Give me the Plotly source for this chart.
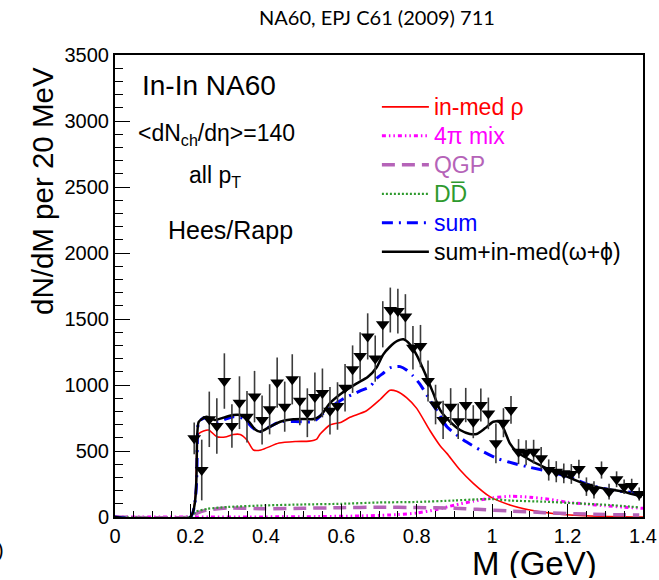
import plotly.graph_objects as go

# NA60 In-In dimuon excess mass spectrum (dN/dM per 20 MeV)
data_mass = [0.21, 0.23, 0.25, 0.27, 0.29, 0.31, 0.33, 0.35, 0.37, 0.39,
             0.41, 0.43, 0.45, 0.47, 0.49, 0.51, 0.53, 0.55, 0.57, 0.59,
             0.61, 0.63, 0.65, 0.67, 0.69, 0.71, 0.73, 0.75, 0.77, 0.79,
             0.81, 0.83, 0.85, 0.87, 0.89, 0.91, 0.93, 0.95, 0.97, 0.99,
             1.01, 1.03, 1.05, 1.07, 1.09, 1.11, 1.13, 1.15, 1.17, 1.19,
             1.21, 1.23, 1.25, 1.27, 1.29, 1.31, 1.33, 1.35, 1.37, 1.39]
data_yield = [596, 356, 740, 689, 1030, 689, 866, 760, 912, 735,
              816, 1018, 836, 1043, 881, 790, 910, 940, 805, 841,
              980, 1120, 1220, 1368, 1200, 1460, 1568, 1560, 1518, 1282,
              1295, 1030, 852, 735, 836, 725, 848, 722, 848, 785,
              558, 714, 811, 495, 487, 495, 445, 356, 343, 331,
              326, 364, 230, 205, 356, 192, 286, 230, 235, 174]
data_err = [120, 230, 210, 210, 210, 165, 200, 195, 195, 185,
            190, 190, 190, 190, 185, 185, 185, 185, 180, 180,
            180, 180, 180, 175, 175, 175, 170, 170, 170, 165,
            160, 155, 150, 145, 140, 135, 130, 125, 125, 120,
            150, 110, 105, 95, 95, 90, 85, 80, 80, 75,
            75, 70, 70, 65, 65, 60, 60, 55, 55, 50]

# Hees/Rapp model curves
rho_m = [0.0, 0.2, 0.222, 0.248, 0.27, 0.296, 0.314, 0.332, 0.35, 0.367,
         0.387, 0.435, 0.48, 0.515, 0.535, 0.544, 0.57, 0.6, 0.623, 0.667,
         0.703, 0.729, 0.747, 0.773, 0.8, 0.835, 0.862, 0.88, 0.915, 0.95,
         0.994, 1.047, 1.1, 1.171, 1.26, 1.4]
rho_y = [0, 0, 630, 659, 608, 608, 625, 625, 583, 508,
         508, 560, 572, 575, 590, 629, 697, 718, 755, 805,
         890, 960, 952, 905, 823, 655, 540, 482, 356, 255,
         154, 91, 53, 23, 8, 0]

mix_m = [0.0, 0.2, 0.5, 0.65, 0.75, 0.8, 0.85, 0.9, 0.95, 1.0,
         1.05, 1.1, 1.15, 1.2, 1.25, 1.3, 1.35, 1.4]
mix_y = [0, 0, 2, 8, 18, 30, 55, 90, 120, 145,
         157, 150, 135, 112, 98, 85, 75, 66]

qgp_m = [0.0, 0.2, 0.215, 0.24, 0.3, 0.4, 0.5, 0.6, 0.7, 0.8,
         0.9, 0.96, 1.05, 1.14, 1.22, 1.31, 1.39]
qgp_y = [0, 0, 25, 50, 68, 62, 66, 71, 74, 72,
         66, 58, 45, 33, 24, 18, 15]

dd_m = [0.0, 0.2, 0.215, 0.245, 0.3, 0.4, 0.5, 0.6, 0.7, 0.8,
        0.9, 0.96, 1.0, 1.05, 1.14, 1.22, 1.31, 1.39]
dd_y = [0, 0, 40, 62, 76, 88, 95, 100, 110, 114,
        125, 134, 136, 124, 116, 104, 91, 73]

sum_m = [0.0, 0.2, 0.222, 0.235, 0.252, 0.27, 0.29, 0.314, 0.34, 0.367,
         0.385, 0.411, 0.438, 0.49, 0.526, 0.552, 0.579, 0.605, 0.65, 0.676,
         0.694, 0.711, 0.729, 0.747, 0.756, 0.773, 0.79, 0.809, 0.835, 0.857,
         0.88, 0.924, 0.968, 1.012, 1.056, 1.1, 1.154, 1.206, 1.259, 1.313,
         1.375, 1.397]
sum_y = [0, 0, 720, 748, 748, 722, 740, 760, 748, 672,
         646, 684, 722, 722, 722, 785, 845, 895, 955, 987,
         1050, 1089, 1130, 1139, 1139, 1114, 1070, 1005, 886, 790,
         684, 583, 508, 445, 407, 376, 343, 300, 242, 205,
         184, 174]

tot_m = [0.0, 0.2, 0.222, 0.243, 0.265, 0.29, 0.313, 0.332, 0.35, 0.371,
         0.385, 0.411, 0.438, 0.473, 0.5, 0.526, 0.544, 0.57, 0.6, 0.64,
         0.67, 0.694, 0.711, 0.729, 0.75, 0.765, 0.782, 0.8, 0.822, 0.844,
         0.862, 0.888, 0.915, 0.941, 0.959, 0.981, 1.003, 1.017, 1.03, 1.047,
         1.065, 1.1, 1.145, 1.189, 1.242, 1.295, 1.348, 1.397]
tot_y = [0, 0, 720, 760, 735, 755, 773, 773, 740, 665,
         646, 684, 722, 740, 742, 742, 765, 862, 935, 1010,
         1060, 1135, 1230, 1290, 1336, 1346, 1308, 1227, 1089, 937,
         811, 722, 659, 629, 629, 672, 722, 722, 672, 558,
         495, 432, 369, 318, 255, 217, 192, 154]

x_ticks = [0, 0.2, 0.4, 0.6, 0.8, 1.0, 1.2, 1.4]
x_tick_text = ["0", "0.2", "0.4", "0.6", "0.8", "1", "1.2", "1.4"]
y_ticks = [0, 500, 1000, 1500, 2000, 2500, 3000, 3500]

FONT = "Liberation Sans, Arial, Helvetica, sans-serif"

fig = go.Figure()

curves = [
    (rho_m, rho_y, "#ff0000", 1.6, "solid", "in-med ρ"),
    (mix_m, mix_y, "#ff00ff", 3, "4px,3px,1.5px,3px,1.5px,3px", "4π mix"),
    (qgp_m, qgp_y, "#b563b8", 3.5, "13px,7px", "QGP"),
    (dd_m, dd_y, "#2e9a2e", 2.2, "2px,2px", "DD\u0305"),
    (sum_m, sum_y, "#0000ff", 3, "11px,6px,2px,6px", "sum"),
    (tot_m, tot_y, "#000000", 2.5, "solid", "sum+in-med(ω+ϕ)"),
]
for xs, ys, col, w, dash, name in curves:
    fig.add_trace(go.Scatter(
        x=xs, y=ys, mode="lines",
        line=dict(color=col, width=w, dash=dash, shape="spline", smoothing=0.6),
        name=f'<span style="color:{col};font-size:23px">{name}</span>',
    ))

fig.add_trace(go.Scatter(
    x=data_mass, y=data_yield, mode="markers",
    marker=dict(symbol="triangle-down", size=12, color="black"),
    error_y=dict(type="data", array=data_err, visible=True,
                 color="#3c3c3c", thickness=1.6, width=0),
    showlegend=False,
))

axis_common = dict(
    showline=True, linecolor="black", linewidth=2, mirror=True,
    ticks="inside", tickcolor="black", tickwidth=1.3,
    showgrid=False, zeroline=False, automargin=False,
    tickfont=dict(family=FONT, size=20, color="black"),
)

fig.update_layout(
    width=659, height=580,
    margin=dict(l=115, r=16, t=55, b=63, autoexpand=False),
    paper_bgcolor="white", plot_bgcolor="white",
    title=dict(text="NA60, EPJ C61 (2009) 711", x=0.572, y=0.969,
               xanchor="center", yanchor="middle", automargin=False,
               font=dict(family="Lato, Open Sans, sans-serif", size=20, color="black")),
    xaxis=dict(range=[0, 1.4], tickvals=x_ticks, ticktext=x_tick_text, ticklen=13,
               minor=dict(dtick=0.05, ticks="inside", ticklen=6, tickcolor="black", tickwidth=1),
               **axis_common),
    yaxis=dict(range=[0, 3500], tickvals=y_ticks, ticklen=15,
               minor=dict(dtick=100, ticks="inside", ticklen=8, tickcolor="black", tickwidth=1),
               **axis_common),
    showlegend=True,
    legend=dict(x=0.496, y=0.93, xanchor="left", yanchor="top",
                bgcolor="rgba(0,0,0,0)", borderwidth=0, itemwidth=47,
                font=dict(family=FONT, size=20, color="black"),
                tracegroupgap=0),
)

notes = [
    ("In-In NA60", 0.047, 0.935, 28),
    ("&lt;dN<sub>ch</sub>/dη&gt;=140", 0.040, 0.829, 23),
    ("all p<sub>T</sub>", 0.136, 0.736, 23),
    ("Hees/Rapp", 0.097, 0.621, 25),
]
for txt, xp, yp, sz in notes:
    fig.add_annotation(text=txt, x=xp, y=yp, xref="paper", yref="paper",
                       xanchor="left", yanchor="middle", showarrow=False,
                       font=dict(family=FONT, size=sz, color="black"))

fig.add_annotation(text="dN/dM per 20 MeV", x=-0.136, y=0.706, xref="paper", yref="paper",
                   textangle=-90, xanchor="center", yanchor="middle", showarrow=False,
                   font=dict(family=FONT, size=29.5, color="black"))
fig.add_annotation(text="M (GeV)", x=0.915, y=-0.099, xref="paper", yref="paper",
                   xanchor="right", yanchor="middle", showarrow=False,
                   height=30, valign="middle", borderpad=0,
                   font=dict(family=FONT, size=33, color="black"))
fig.add_annotation(text=")", x=-0.207, y=-0.071, xref="paper", yref="paper",
                   xanchor="right", yanchor="middle", showarrow=False,
                   font=dict(family=FONT, size=20, color="black"))

fig.write_html("out.html")
